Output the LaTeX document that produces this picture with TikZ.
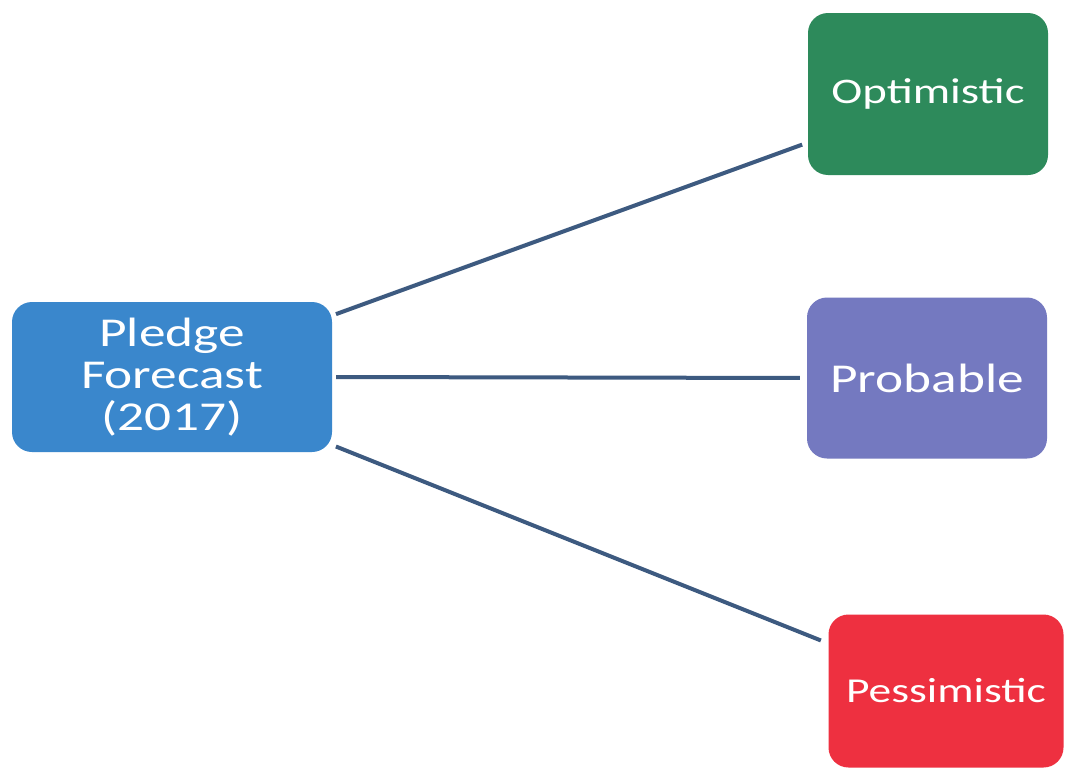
\documentclass[tikz,border=0pt]{standalone}
\usepackage{fontspec}
\setmainfont[FakeStretch=1.3]{Carlito}
\usepackage{xcolor}
\usetikzlibrary{positioning}
\definecolor{fcblue}{HTML}{3A87CC}
\definecolor{optgreen}{HTML}{2D8A5B}
\definecolor{probpurple}{HTML}{7479C0}
\definecolor{pesred}{HTML}{EE3040}
\definecolor{linkblue}{HTML}{3D5A80}

\begin{document}
\begin{tikzpicture}[
  x=1pt, y=-1pt,
  box/.style={rounded corners=20pt, align=center, inner sep=0pt, text=white,
              minimum width=240pt, minimum height=160pt},
  ar/.style={line width=4pt, draw=linkblue}
]
  \useasboundingbox[fill=white] (0,0) rectangle (1066,771);

  \node[box, fill=fcblue, minimum width=320pt, minimum height=150pt,
        font=\fontsize{41}{42}\selectfont] (fc) at (172,377)
        {Pledge\\ Forecast\\ (2017)};
  \node[box, fill=optgreen, minimum height=162pt,
        font=\fontsize{36}{40}\selectfont] (opt) at (928,94) {Optimistic};
  \node[box, fill=probpurple, minimum height=161pt,
        font=\fontsize{41}{44}\selectfont] (prob) at (927,378) {Probable};
  \node[box, fill=pesred, minimum width=235pt, minimum height=153pt,
        font=\fontsize{35}{40}\selectfont] (pes) at (946,691) {Pessimistic};

  \draw[ar, shorten <=4pt, shorten >=6pt] (fc.21) -- (opt.202);
  \draw[ar, shorten <=4pt, shorten >=7pt] (fc.east) -- (prob.west);
  \draw[ar, shorten <=4pt, shorten >=8pt] (fc.-23) -- (pes.158);
\end{tikzpicture}
\end{document}
